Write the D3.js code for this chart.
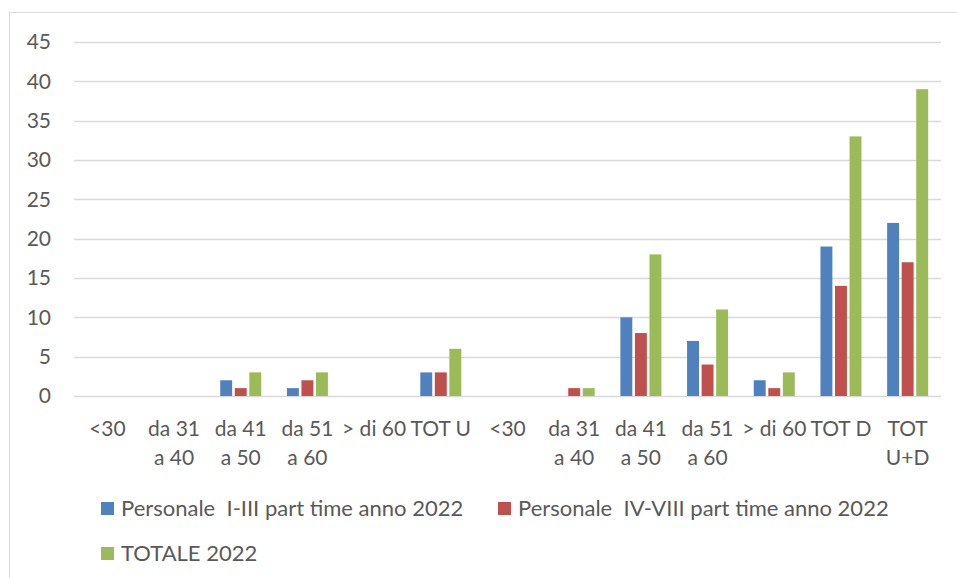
<!DOCTYPE html>
<html>
<head>
<meta charset="utf-8">
<script src="https://cdn.jsdelivr.net/npm/d3@7"></script>
<style>
  html, body { margin: 0; padding: 0; background: #fff; }
  svg { display: block; }
  text { font-family: "Lato", "Liberation Sans", sans-serif; fill: #595959; }
</style>
</head>
<body>
<svg id="chart" width="957" height="578"></svg>
<script>
// Age bands, men then women, then overall total
const categories = [
  ["<30"], ["da 31", "a 40"], ["da 41", "a 50"], ["da 51", "a 60"], ["> di 60"], ["TOT U"],
  ["<30"], ["da 31", "a 40"], ["da 41", "a 50"], ["da 51", "a 60"], ["> di 60"], ["TOT D"],
  ["TOT", "U+D"]
];
const seriesNames = [
  "Personale  I-III part time anno 2022",
  "Personale  IV-VIII part time anno 2022",
  "TOTALE 2022"
];
const personaleI_III  = [0, 0, 2, 1, 0, 3, 0, 0, 10, 7, 2, 19, 22];
const personaleIV_VIII = [0, 0, 1, 2, 0, 3, 0, 1, 8, 4, 1, 14, 17];
const totale2022      = [0, 0, 3, 3, 0, 6, 0, 1, 18, 11, 3, 33, 39];
const yTicks = [0, 5, 10, 15, 20, 25, 30, 35, 40, 45];
const colors = ["#4F81BD", "#C0504D", "#9BBB59"];

const series = [personaleI_III, personaleIV_VIII, totale2022];

const svg = d3.select("#chart");
const plot = { left: 74, right: 941, top: 42, bottom: 396 };

// Chart frame
svg.append("rect")
  .attr("x", 9.5).attr("y", 12.5)
  .attr("width", 970).attr("height", 600)
  .attr("fill", "none").attr("stroke", "#D9D9D9").attr("stroke-width", 1);

const x0 = d3.scaleBand()
  .domain(d3.range(categories.length))
  .range([plot.left, plot.right])
  .paddingInner(0.385)
  .paddingOuter(0.1925);

const x1 = d3.scaleBand()
  .domain(d3.range(series.length))
  .range([0, x0.bandwidth()])
  .paddingInner(0.18);

const y = d3.scaleLinear().domain([0, 45]).range([plot.bottom, plot.top]);

// Gridlines
svg.append("g")
  .selectAll("line")
  .data(yTicks)
  .join("line")
  .attr("x1", plot.left).attr("x2", plot.right)
  .attr("y1", d => Math.round(y(d)) + 0.5).attr("y2", d => Math.round(y(d)) + 0.5)
  .attr("stroke", "#D9D9D9").attr("stroke-width", 1.3);

// Y axis labels
const yAxis = d3.axisLeft(y).tickValues(yTicks).tickSize(0).tickPadding(0);
const gy = svg.append("g")
  .attr("transform", `translate(${plot.left - 23},0)`)
  .call(yAxis);
gy.select(".domain").remove();
gy.selectAll("text")
  .attr("font-size", 21)
  .attr("fill", "#595959")
  .style("font-family", '"Lato", "Liberation Sans", sans-serif');

// Bars
const groups = svg.append("g")
  .selectAll("g")
  .data(categories.map((c, i) => i))
  .join("g")
  .attr("transform", i => `translate(${x0(i)},0)`);

groups.selectAll("rect")
  .data(i => series.map((s, k) => ({ k, v: s[i] })).filter(d => d.v > 0))
  .join("rect")
  .attr("x", d => x1(d.k))
  .attr("width", x1.bandwidth())
  .attr("y", d => y(d.v))
  .attr("height", d => y(0) - y(d.v))
  .attr("fill", d => colors[d.k]);

// Category labels
const xl = svg.append("g")
  .selectAll("text")
  .data(categories)
  .join("text")
  .attr("x", (d, i) => x0(i) + x0.bandwidth() / 2)
  .attr("y", 436)
  .attr("text-anchor", "middle")
  .attr("font-size", 21);
xl.selectAll("tspan")
  .data(d => d)
  .join("tspan")
  .attr("x", function () { return this.parentNode.getAttribute("x"); })
  .attr("dy", (d, j) => j === 0 ? 0 : 29)
  .text(d => d);

// Legend
const legendPos = [
  { x: 101, y: 516 },
  { x: 498, y: 516 },
  { x: 101, y: 561 }
];
const lg = svg.append("g")
  .selectAll("g")
  .data(seriesNames)
  .join("g")
  .attr("transform", (d, i) => `translate(${legendPos[i].x},${legendPos[i].y})`);
lg.append("rect")
  .attr("x", 0).attr("y", -14).attr("width", 13).attr("height", 13)
  .attr("fill", (d, i) => colors[i]);
lg.append("text")
  .attr("x", 20).attr("y", 0)
  .attr("font-size", 22)
  .style("white-space", "pre")
  .text(d => d);
</script>
</body>
</html>
